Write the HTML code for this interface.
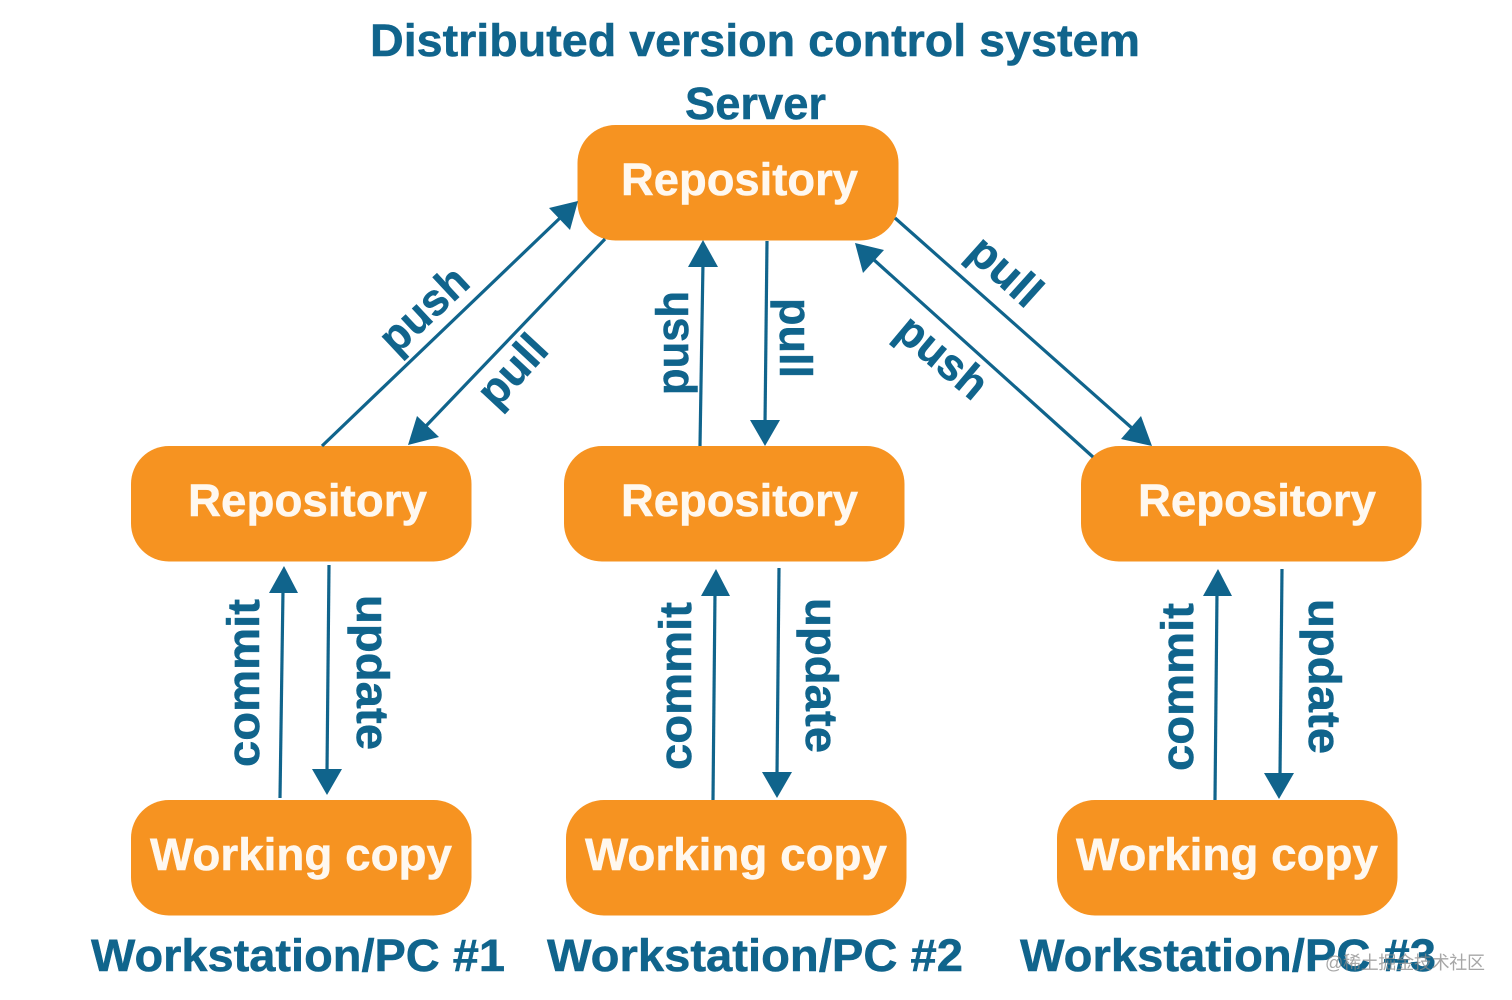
<!DOCTYPE html>
<html><head><meta charset="utf-8"><style>
html,body{margin:0;padding:0;background:#fff;width:1512px;height:1000px;overflow:hidden}
svg{display:block}
text{font-family:"Liberation Sans",sans-serif;font-weight:700;font-size:45px;fill:#10648c;stroke:#10648c;stroke-width:.5}
text.w{fill:#fff8ef;stroke:#fff8ef}
.l{stroke:#10648c;stroke-width:3.2;fill:none}
.a{fill:#10648c}
text.m{font-family:"Liberation Sans","Noto Sans CJK SC",sans-serif;font-weight:400;font-size:18px;fill:#8a8a8a;fill-opacity:.75;stroke:none}
</style></head><body>
<svg width="1512" height="1000" viewBox="0 0 1512 1000" xmlns="http://www.w3.org/2000/svg">
<g fill="#f69321">
<rect x="577.5" y="125" width="321" height="115.5" rx="38"/>
<rect x="131" y="446" width="340.5" height="115.5" rx="38"/>
<rect x="564" y="446" width="340.5" height="115.5" rx="38"/>
<rect x="1081" y="446" width="340.5" height="115.5" rx="38"/>
<rect x="131" y="800" width="340.5" height="115.5" rx="38"/>
<rect x="566" y="800" width="340.5" height="115.5" rx="38"/>
<rect x="1057" y="800" width="340.5" height="115.5" rx="38"/>
</g>
<g class="l">
<line x1="322" y1="446" x2="560" y2="218"/>
<line x1="605" y1="239" x2="425" y2="427"/>
<line x1="700" y1="446" x2="703" y2="262"/>
<line x1="767" y1="241" x2="765" y2="425"/>
<line x1="895" y1="218" x2="1133" y2="429"/>
<line x1="1093" y1="457" x2="873" y2="259"/>
<line x1="280" y1="798" x2="283" y2="590"/>
<line x1="329" y1="565" x2="327" y2="772"/>
<line x1="713" y1="800" x2="715" y2="592"/>
<line x1="779" y1="568" x2="777" y2="775"/>
<line x1="1215" y1="800" x2="1217" y2="592"/>
<line x1="1282" y1="569" x2="1280" y2="776"/>
</g>
<g class="a">
<polygon points="578,201 570,230 549,208"/>
<polygon points="408,445 417,416 439,437"/>
<polygon points="703,240 718,267 688,267"/>
<polygon points="765,446 750,420 780,420"/>
<polygon points="1152,446 1121,439 1141,416"/>
<polygon points="855,243 884,250 863,273"/>
<polygon points="284,566 298,593 269,593"/>
<polygon points="327,795 312,769 342,769"/>
<polygon points="716,569 730,596 701,596"/>
<polygon points="777,798 762,772 792,772"/>
<polygon points="1218,569 1232,596 1203,596"/>
<polygon points="1279,799 1264,773 1294,773"/>
</g>
<text x="370" y="56" textLength="770" lengthAdjust="spacingAndGlyphs">Distributed version control system</text>
<text x="685" y="119" textLength="141" lengthAdjust="spacingAndGlyphs">Server</text>
<text class="w" x="621" y="195" textLength="237" lengthAdjust="spacingAndGlyphs">Repository</text>
<text class="w" x="188" y="516" textLength="239" lengthAdjust="spacingAndGlyphs">Repository</text>
<text class="w" x="621" y="516" textLength="237" lengthAdjust="spacingAndGlyphs">Repository</text>
<text class="w" x="1138" y="516" textLength="238" lengthAdjust="spacingAndGlyphs">Repository</text>
<text class="w" x="150" y="870" textLength="302" lengthAdjust="spacingAndGlyphs">Working copy</text>
<text class="w" x="585" y="870" textLength="302" lengthAdjust="spacingAndGlyphs">Working copy</text>
<text class="w" x="1076" y="870" textLength="302" lengthAdjust="spacingAndGlyphs">Working copy</text>
<text x="91" y="971" textLength="414" lengthAdjust="spacingAndGlyphs">Workstation/PC #1</text>
<text x="547" y="971" textLength="416" lengthAdjust="spacingAndGlyphs">Workstation/PC #2</text>
<text x="1020" y="971" textLength="416" lengthAdjust="spacingAndGlyphs">Workstation/PC #3</text>
<text transform="translate(396,356) rotate(-43)" textLength="104" lengthAdjust="spacingAndGlyphs">push</text>
<text transform="translate(496,410) rotate(-47)" textLength="80" lengthAdjust="spacingAndGlyphs">pull</text>
<text transform="translate(688,395) rotate(-90)" textLength="104" lengthAdjust="spacingAndGlyphs">push</text>
<text transform="translate(780,298) rotate(90)" textLength="80" lengthAdjust="spacingAndGlyphs">pull</text>
<text transform="translate(965,255) rotate(42)" textLength="82" lengthAdjust="spacingAndGlyphs">pull</text>
<text transform="translate(893,335) rotate(40)" textLength="104" lengthAdjust="spacingAndGlyphs">push</text>
<text transform="translate(259,767) rotate(-90)" textLength="168" lengthAdjust="spacingAndGlyphs">commit</text>
<text transform="translate(691,770) rotate(-90)" textLength="168" lengthAdjust="spacingAndGlyphs">commit</text>
<text transform="translate(1193,771) rotate(-90)" textLength="168" lengthAdjust="spacingAndGlyphs">commit</text>
<text transform="translate(357,595) rotate(90)" textLength="155" lengthAdjust="spacingAndGlyphs">update</text>
<text transform="translate(806,598) rotate(90)" textLength="155" lengthAdjust="spacingAndGlyphs">update</text>
<text transform="translate(1309,599) rotate(90)" textLength="155" lengthAdjust="spacingAndGlyphs">update</text>
<text class="m" x="1325" y="969" textLength="160">@稀土掘金技术社区</text>
</svg>
</body></html>
